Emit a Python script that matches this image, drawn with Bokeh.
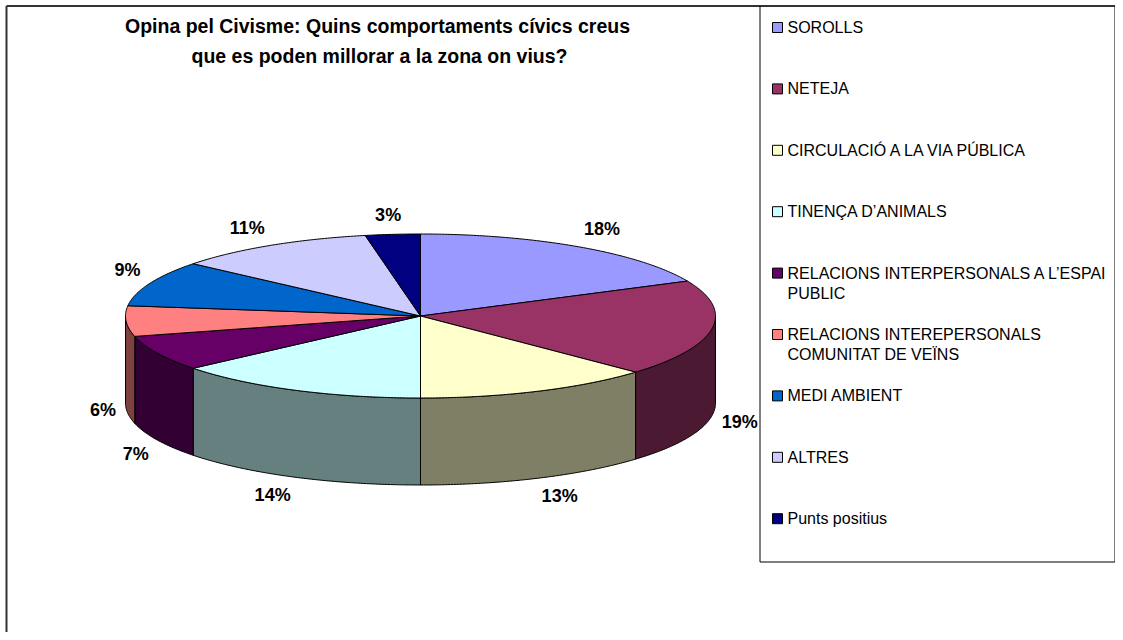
import textwrap
import numpy as np
from bokeh.plotting import figure
from bokeh.models import Range1d
from bokeh.core.properties import value
from bokeh.embed import file_html
from bokeh.resources import INLINE

# ---------------- data ----------------
title_lines = ["Opina pel Civisme: Quins comportaments cívics creus",
               "que es poden millorar a la zona on vius?"]
categories = ["SOROLLS",
              "NETEJA",
              "CIRCULACIÓ A LA VIA PÚBLICA",
              "TINENÇA D’ANIMALS",
              "RELACIONS INTERPERSONALS A L’ESPAI PUBLIC",
              "RELACIONS INTEREPERSONALS COMUNITAT DE VEÏNS",
              "MEDI AMBIENT",
              "ALTRES",
              "Punts positius"]
percentages = [18, 19, 13, 14, 7, 6, 9, 11, 3]
colors = ["#9999FF", "#993366", "#FFFFCC", "#CCFFFF", "#660066",
          "#FF8080", "#0066CC", "#CCCCFF", "#000080"]

# ---------------- layout (pixel-like coordinates) ----------------
W, H = 1115, 632
FONT = value("Liberation Sans")
CX, CY, RX, RY, DEPTH = 420.0, 315.5, 295.0, 82.0, 87.0


def darker(hexcol, f=0.5):
    h = hexcol.lstrip("#")
    r, g, b = (int(h[i:i + 2], 16) for i in (0, 2, 4))
    return "#%02x%02x%02x" % (int(r * f), int(g * f), int(b * f))


def ell(t, dy=0.0):
    return CX + RX * np.sin(t), CY - RY * np.cos(t) + dy


p = figure(width=W, height=H, x_range=Range1d(0, W), y_range=Range1d(H, 0),
           output_backend="svg", toolbar_location=None, min_border=0,
           outline_line_color=None, background_fill_color="white",
           border_fill_color="white")
p.axis.visible = False
p.grid.visible = False

# frames
p.multi_line(xs=[[6, 6], [6, W]], ys=[[H, 5.5], [5.5, 5.5]],
             line_color="#333333", line_width=2)
p.multi_line(xs=[[759.5, 759.5, W - 0.5, W - 0.5]], ys=[[5.5, 561.5, 561.5, 5.5]],
             line_color="black", line_width=1)

# title
p.text(x=[377, 379], y=[25, 55], text=title_lines, text_font=FONT,
       text_font_style="bold", text_font_size="19.5px", text_align="center",
       text_baseline="middle", text_color="black")

# pie geometry
vals = np.array(percentages, dtype=float)
cum = np.concatenate([[0.0], np.cumsum(vals / vals.sum())]) * 2 * np.pi

side_xs, side_ys, side_cols = [], [], []
top_xs, top_ys = [], []
for i in range(len(vals)):
    a, b = cum[i], cum[i + 1]
    n = max(3, int((b - a) / 0.01))
    t = np.linspace(a, b, n)
    x, y = ell(t)
    top_xs.append([CX] + list(x))
    top_ys.append([CY] + list(y))
    lo, hi = max(a, np.pi / 2), min(b, 3 * np.pi / 2)
    if hi > lo:
        ts = np.linspace(lo, hi, max(3, int((hi - lo) / 0.01)))
        sx, sy = ell(ts)
        bx, by = ell(ts[::-1], DEPTH)
        side_xs.append(list(sx) + list(bx))
        side_ys.append(list(sy) + list(by))
        side_cols.append(darker(colors[i]))

p.patches(xs=side_xs, ys=side_ys, fill_color=side_cols, line_color="black", line_width=1)
p.patches(xs=top_xs, ys=top_ys, fill_color=colors, line_color="black", line_width=1)

# data labels
lx, ly, lt = [], [], []
for i in range(len(vals)):
    mid = (cum[i] + cum[i + 1]) / 2
    s, c = np.sin(mid), np.cos(mid)
    ax, ay = ell(mid, DEPTH if c < 0 else 0.0)
    lab = "%d%%" % percentages[i]
    w = 10 * (len(lab) - 1) + 16
    h = 18
    g = 10
    lx.append(ax + g * s + np.clip(3 * s, -1, 1) * w / 2)
    ly.append(ay - g * c - np.clip(3 * c, -1, 1) * h / 2)
    lt.append(lab)
p.text(x=lx, y=ly, text=lt, text_font=FONT, text_font_style="bold",
       text_font_size="18px", text_align="center", text_baseline="middle",
       text_color="black")

# legend
tx, ty, tt = [], [], []
mx, my = [], []
for i, cat in enumerate(categories):
    yi = 27 + i * 61.4
    mx.append(777)
    my.append(yi)
    for j, line in enumerate(textwrap.wrap(cat, 34)):
        tx.append(787)
        ty.append(yi + 20 * j)
        tt.append(line)
p.rect(x=mx, y=my, width=10, height=10, fill_color=colors, line_color="black", line_width=1)
p.text(x=tx, y=ty, text=tt, text_font=FONT, text_font_size="16px",
       text_align="left", text_baseline="middle", text_color="black")

open("out.html", "w").write(file_html(p, INLINE))
